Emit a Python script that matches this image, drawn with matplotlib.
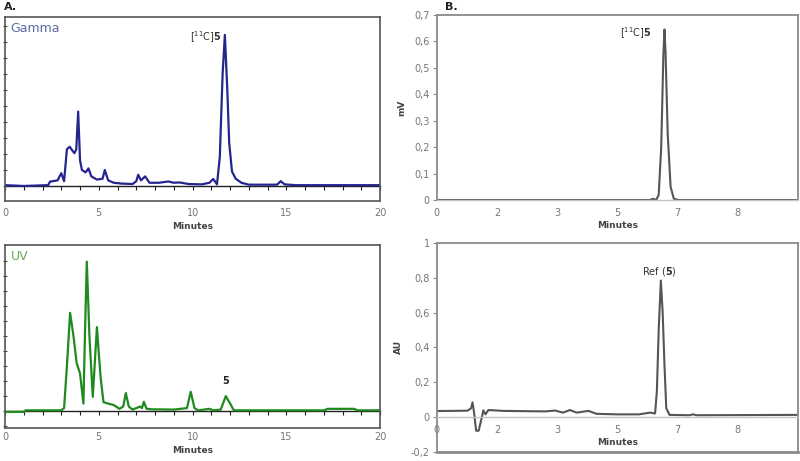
import matplotlib.pyplot as plt

# Panel A, gamma trace (minutes, detector units)
gamma_t = [0, 1, 2.3, 2.4, 2.8, 3.0, 3.15, 3.3, 3.45, 3.6, 3.7, 3.8, 3.9, 4.0, 4.1,
           4.3, 4.45, 4.6, 4.9, 5.2, 5.32, 5.5, 5.8, 6.2, 6.8, 7.0, 7.1, 7.25, 7.47,
           7.7, 8.2, 8.7, 9.0, 9.3, 9.8, 10.5, 10.9, 11.1, 11.3, 11.45, 11.6, 11.72,
           11.85, 11.95, 12.1, 12.3, 12.6, 13.0, 14.5, 14.7, 14.9, 15.5, 20]
gamma_v = [0.05, 0.0, 0.05, 0.27, 0.35, 0.8, 0.3, 2.3, 2.45, 2.2, 2.05, 2.3, 4.65, 1.6, 1.0,
           0.85, 1.1, 0.6, 0.4, 0.45, 1.0, 0.35, 0.2, 0.15, 0.12, 0.3, 0.7, 0.35, 0.6,
           0.2, 0.2, 0.28, 0.2, 0.22, 0.12, 0.1, 0.2, 0.44, 0.1, 1.8, 7.0, 9.44,
           6.0, 2.7, 0.9, 0.45, 0.2, 0.08, 0.08, 0.3, 0.1, 0.05, 0.05]

# Panel A, UV trace
uv_t = [0, 1.0, 1.1, 3.0, 3.15, 3.3, 3.47, 3.65, 3.82, 4.0, 4.18, 4.26, 4.36, 4.5,
        4.68, 4.8, 4.9, 5.0, 5.1, 5.25, 5.5, 5.8, 6.1, 6.3, 6.44, 6.6, 6.8, 7.2,
        7.3, 7.4, 7.55, 7.8, 9.0, 9.7, 9.9, 10.1, 10.3, 10.9, 11.1, 11.5, 11.77,
        12.0, 12.2, 17.0, 17.2, 18.6, 18.8, 20]
uv_v = [-0.05, -0.05, 0.05, 0.05, 0.2, 3.0, 6.55, 5.0, 3.2, 2.5, 0.5, 5.0, 9.96, 5.0,
        0.95, 3.5, 5.6, 3.85, 2.2, 0.6, 0.5, 0.4, 0.15, 0.3, 1.2, 0.3, 0.1, 0.3,
        0.2, 0.62, 0.15, 0.12, 0.1, 0.2, 1.29, 0.2, 0.05, 0.15, 0.05, 0.1, 1.0,
        0.5, 0.05, 0.05, 0.15, 0.15, 0.05, 0.05]

# Panel B, radio trace (mV)
rad_t = [0, 5.9, 6.0, 6.08, 6.15, 6.22, 6.28, 6.31, 6.34, 6.4, 6.48, 6.57, 6.7, 10]
rad_v = [0, 0, 0.005, 0.0, 0.02, 0.2, 0.55, 0.645, 0.56, 0.25, 0.05, 0.005, 0, 0]

# Panel B, UV reference trace (AU)
ref_t = [0, 0.85, 0.95, 0.99, 1.03, 1.09, 1.16, 1.25, 1.29, 1.35, 1.43, 1.84, 3.0,
         3.28, 3.5, 3.69, 3.88, 4.2, 4.43, 5.0, 5.6, 5.92, 6.05, 6.1, 6.15, 6.21,
         6.26, 6.31, 6.36, 6.45, 7.0, 7.1, 7.2, 10]
ref_v = [0.034, 0.036, 0.05, 0.084, 0.03, -0.079, -0.079, 0.0, 0.038, 0.015, 0.04,
         0.035, 0.032, 0.037, 0.025, 0.04, 0.025, 0.035, 0.018, 0.015, 0.015, 0.025,
         0.02, 0.15, 0.5, 0.784, 0.6, 0.3, 0.05, 0.012, 0.01, 0.015, 0.01, 0.012]

a_ticks = [0, 5, 10, 15, 20]
b_ticks = [0, 5 / 3, 10 / 3, 5, 20 / 3, 25 / 3]
b_tick_labels = ["0", "2", "3", "5", "7", "8"]
rad_yticks = [0, 0.1, 0.2, 0.3, 0.4, 0.5, 0.6, 0.7]
ref_yticks = [-0.2, 0, 0.2, 0.4, 0.6, 0.8, 1.0]

grey = "#8a8a8a"
lbl = "#777777"

fig = plt.figure(figsize=(8, 4.61), dpi=100)


def panel_a(rect, t, v, color, name, name_color, ylim, tick_lo, pad):
    ax = fig.add_axes(rect)
    ax.plot(t, v, color=color, lw=1.6)
    ax.set_xlim(0, 20)
    ax.set_ylim(*ylim)
    for s in ax.spines.values():
        s.set_color("#555555")
        s.set_linewidth(1.2)
    ax.set_xticks(a_ticks)
    ax.tick_params(axis="x", length=0, pad=pad, labelsize=7, labelcolor=lbl)
    ax.set_yticks(range(tick_lo, 11))
    ax.tick_params(axis="y", direction="inout", length=3, width=0.8,
                   color="#444444", labelleft=False)
    # baseline with one-minute ticks
    frac = (0 - ylim[0]) / (ylim[1] - ylim[0])
    base = ax.secondary_xaxis(frac)
    base.set_xticks(range(0, 21))
    base.tick_params(direction="out", length=3, width=0.8, color="#222222",
                     labelbottom=False, labeltop=False)
    base.spines["bottom"].set_color("#222222")
    base.spines["bottom"].set_linewidth(1.0)
    ax.set_xlabel("Minutes", fontsize=6.5, fontweight="bold", color="#444444",
                  labelpad=3)
    ax.text(0.015, 0.975, name, transform=ax.transAxes, ha="left", va="top",
            fontsize=9, color=name_color)
    return ax


ax1 = panel_a([0.00625, 0.564, 0.469, 0.399], gamma_t, gamma_v, "#25258e",
              "Gamma", "#5b6aa3", (-0.94, 10.56), 0, 5)
ax1.text(11.55, 9.3, r"[$^{11}$C]$\mathbf{5}$", ha="right", va="center",
         fontsize=7, color="#333333")

ax2 = panel_a([0.00625, 0.0715, 0.469, 0.397], uv_t, uv_v, "#1f8a1f",
              "UV", "#6aaa5a", (-1.13, 11.07), -1, 3)
ax2.text(11.77, 1.65, "5", ha="center", va="bottom", fontsize=7,
         fontweight="bold", color="#222222")


def panel_b(rect, t, v, ylim, yticks, ylabel):
    ax = fig.add_axes(rect)
    ax.plot(t, v, color="#555555", lw=1.5)
    ax.set_xlim(0, 10)
    ax.set_ylim(*ylim)
    for s in ax.spines.values():
        s.set_color(grey)
        s.set_linewidth(1.3)
    ax.spines["bottom"].set_position(("data", 0))
    ax.spines["bottom"].set_color("#c4c4c4")
    ax.spines["bottom"].set_linewidth(1.0)
    ax.set_xticks(b_ticks)
    ax.set_xticklabels(b_tick_labels)
    ax.tick_params(axis="x", length=0, pad=6, labelsize=7, labelcolor=lbl)
    ax.set_yticks(yticks)
    ax.set_yticklabels([f"{y:g}".replace(".", ",") for y in yticks])
    ax.tick_params(axis="y", length=3, width=0.8, color=grey, pad=2,
                   labelsize=7, labelcolor=lbl)
    ax.set_xlabel("Minutes", fontsize=6.5, fontweight="bold", color="#444444",
                  labelpad=2)
    ax.set_ylabel(ylabel, fontsize=6.5, fontweight="bold", color="#444444",
                  labelpad=6)
    return ax


ax3 = panel_b([0.546, 0.566, 0.451, 0.4015], rad_t, rad_v, (0, 0.7),
              rad_yticks, "mV")
ax3.text(5.95, 0.632, r"[$^{11}$C]$\mathbf{5}$", ha="right", va="center",
         fontsize=7, color="#333333")

ax4 = panel_b([0.546, 0.02, 0.451, 0.453], ref_t, ref_v, (-0.2, 1.0),
              ref_yticks, "AU")
ax4.axhline(-0.2, color=grey, lw=2.0, clip_on=False)
ax4.text(6.17, 0.8, r"Ref ($\mathbf{5}$)", ha="center", va="bottom",
         fontsize=7, color="#333333")

fig.text(0.005, 0.995, "A.", ha="left", va="top", fontsize=8,
         fontweight="bold", color="#222222")
fig.text(0.556, 0.995, "B.", ha="left", va="top", fontsize=8,
         fontweight="bold", color="#222222")

fig.savefig("out.png", dpi=100)
